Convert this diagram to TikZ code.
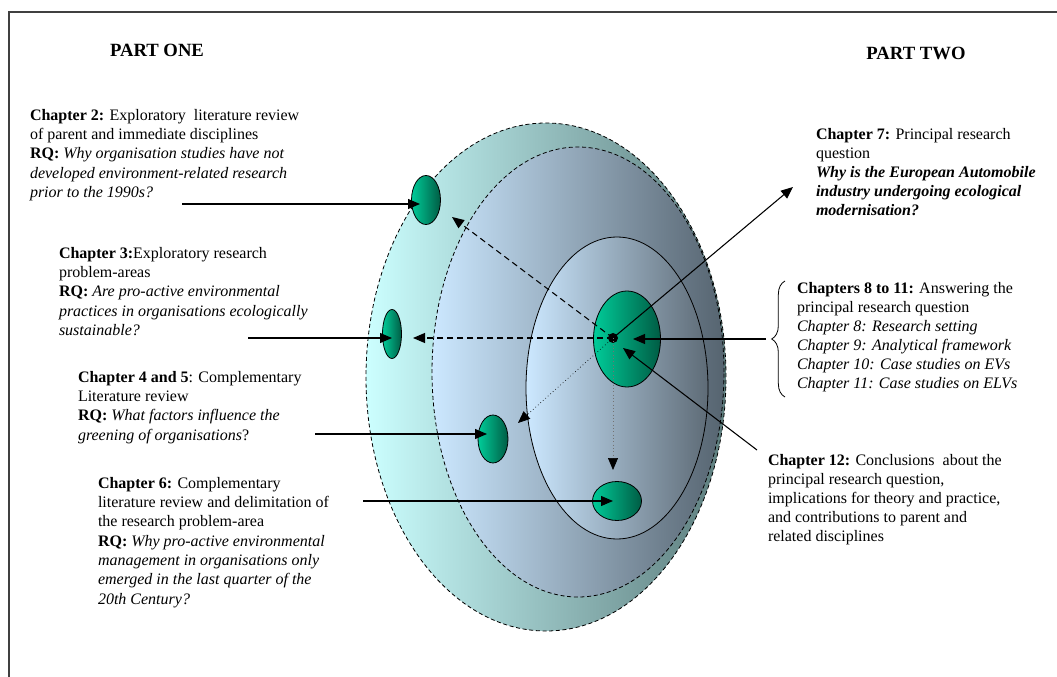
\documentclass[tikz,border=0pt]{standalone}
\usepackage{fontspec}
\setmainfont{Liberation Serif}
\usetikzlibrary{shapes.geometric,arrows.meta,decorations.pathreplacing}

\definecolor{cyanL}{RGB}{204,255,255}
\definecolor{cyanM}{RGB}{172,222,222}
\definecolor{cyanD}{RGB}{92,124,124}
\definecolor{blueL}{RGB}{204,232,255}
\definecolor{blueM}{RGB}{170,198,220}
\definecolor{blueD}{RGB}{86,100,112}
\definecolor{greenL}{RGB}{0,204,153}
\definecolor{greenD}{RGB}{0,92,68}

\begin{document}
\begin{tikzpicture}[x=0.75pt,y=-0.75pt,
  every node/.style={inner sep=0pt,outer sep=0pt},
  txtL/.style={anchor=north west,align=left,font=\fontsize{12}{14.5}\selectfont},
  txtR/.style={anchor=north west,align=left,font=\fontsize{12}{14.3}\selectfont},
  part/.style={font=\fontsize{14}{16}\selectfont\bfseries},
  ring/.style={ellipse,draw=black,line width=0.6pt},
  ringdash/.style={ring,dash pattern=on 3pt off 2pt},
  pod/.style={ellipse,draw=black,line width=0.6pt,left color=greenL,right color=greenD},
  arr/.style={line width=0.8pt,-{Triangle[length=9pt,width=7.5pt,color=black]}},
  dasharr/.style={arr,dash pattern=on 4.5pt off 3pt},
  dotarr/.style={arr,line width=0.5pt,dotted},
]
\useasboundingbox (0,0) rectangle (1057,677);

% page frame (top and left edges)
\draw[line width=0.8pt,black!75] (9,677) -- (9,12) -- (1057,12);

% headings
\node[part] (p1) at (157,50) {PART ONE};
\node[part] (p2) at (916,53) {PART TWO};

% nested regions
\node[ringdash,left color=cyanL,middle color=cyanM,right color=cyanD,minimum width=360*0.75pt,minimum height=508*0.75pt] (outer) at (546,377) {};
\node[ringdash,left color=blueL,middle color=blueM,right color=blueD,minimum width=292*0.75pt,minimum height=450*0.75pt] (inner) at (578,372) {};
\node[ring,left color=blueL,middle color=blueM!90!blueL,right color=blueD!95,minimum width=182*0.75pt,minimum height=302*0.75pt] (core) at (617,388) {};

% chapter pods
\node[pod,minimum width=67*0.75pt,minimum height=96*0.75pt] (c7) at (627,339) {};
\node[pod,minimum width=29*0.75pt,minimum height=49*0.75pt] (c2) at (426,200) {};
\node[pod,minimum width=19*0.75pt,minimum height=49*0.75pt] (c3) at (392,334) {};
\node[pod,minimum width=30*0.75pt,minimum height=48*0.75pt] (c45) at (493,439) {};
\node[pod,minimum width=49*0.75pt,minimum height=39*0.75pt] (c6) at (617,501) {};

% texts
\node[txtL] (t2) at (30,109) {\textbf{Chapter 2:} Exploratory \ literature review\\
  of parent and immediate disciplines\\
  \textbf{RQ:} \textit{Why organisation studies have not}\\
  \textit{developed environment-related research}\\
  \textit{prior to the 1990s?}};
\node[txtL] (t3) at (59,247) {\textbf{Chapter 3:}Exploratory research\\
  problem-areas\\
  \textbf{RQ:} \textit{Are pro-active environmental}\\
  \textit{practices in organisations ecologically}\\
  \textit{sustainable?}};
\node[txtL] (t45) at (78,371) {\textbf{Chapter 4 and 5}: Complementary\\
  Literature review\\
  \textbf{RQ:} \textit{What factors influence the}\\
  \textit{greening of organisations}?};
\node[txtL] (t6) at (98,477) {\textbf{Chapter 6:} Complementary\\
  literature review and delimitation of\\
  the research problem-area\\
  \textbf{RQ:} \textit{Why pro-active environmental}\\
  \textit{management in organisations only}\\
  \textit{emerged in the last quarter of the}\\
  \textit{20th Century?}};
\node[txtR] (t7) at (816,128) {\textbf{Chapter 7:} Principal research\\
  question\\
  \textbf{\textit{Why is the European Automobile}}\\
  \textbf{\textit{industry undergoing ecological}}\\
  \textbf{\textit{modernisation?}}};
\node[txtR] (t8) at (797,282) {\textbf{Chapters 8 to 11:} Answering the\\
  principal research question\\
  \textit{Chapter 8: Research setting}\\
  \textit{Chapter 9: Analytical framework}\\
  \textit{Chapter 10: Case studies on EVs}\\
  \textit{Chapter 11: Case studies on ELVs}};
\node[txtR] (t12) at (768,454) {\textbf{Chapter 12:} Conclusions \ about the\\
  principal research question,\\
  implications for theory and practice,\\
  and contributions to parent and\\
  related disciplines};

% connector end points
\coordinate (s2) at (182,204);   \coordinate (h2) at (420,204);
\coordinate (s3) at (248,338);   \coordinate (h3) at (392,338);
\coordinate (s45) at (315,434);  \coordinate (h45) at (487,434);
\coordinate (s6) at (363,501);   \coordinate (h6) at (613,501);
\coordinate (h7) at (793,187);
\coordinate (s8) at (766,339);   \coordinate (h8) at (633,339);
\coordinate (s12) at (757,450);  \coordinate (h12) at (623,348);
\coordinate (d2) at (452,217);   \coordinate (d3) at (413,338);
\coordinate (d45) at (518,423);  \coordinate (d6) at (613,470);
\coordinate (bb) at (785,397);   \coordinate (bt) at (785,281);

% brace for chapters 8 to 11
\draw[line width=0.6pt,decorate,decoration={brace,amplitude=10pt}] (bb) -- (bt);

% centre point
\node[circle,fill=black,minimum size=7.5pt] (hub) at (613,338) {};

% arrows from the chapter texts
\draw[arr] (s2) -- (h2);
\draw[arr] (s3) -- (h3);
\draw[arr] (s45) -- (h45);
\draw[arr] (s6) -- (h6);
\draw[arr] (hub.center) -- (h7);
\draw[arr] (s8) -- (h8);
\draw[arr] (s12) -- (h12);

% arrows from the centre point
\draw[dasharr] (hub.center) -- (d2);
\draw[dasharr] (hub.center) -- (d3);
\draw[dotarr] (hub.center) -- (d45);
\draw[dotarr,draw=black!55] (hub.center) -- (d6);
\end{tikzpicture}
\end{document}
